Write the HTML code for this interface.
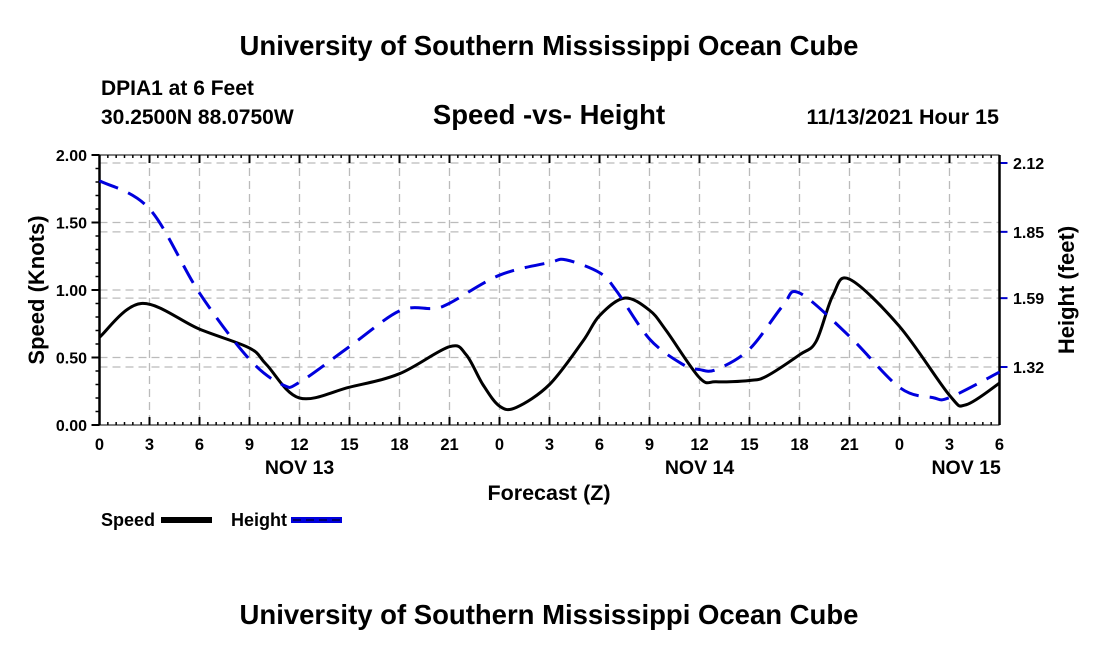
<!DOCTYPE html>
<html><head><meta charset="utf-8"><style>
body{margin:0;background:#fff;}
svg text{font-family:"Liberation Sans",Arial,sans-serif;font-weight:bold;fill:#000;}
</style></head><body>
<svg id="chart" width="1100" height="650" xmlns="http://www.w3.org/2000/svg">
<text x="549" y="55" font-size="27.5" text-anchor="middle">University of Southern Mississippi Ocean Cube</text>
<text x="101" y="95" font-size="21">DPIA1 at 6 Feet</text>
<text x="101" y="124" font-size="21">30.2500N  88.0750W</text>
<text x="549" y="124" font-size="27.5" text-anchor="middle">Speed -vs- Height</text>
<text x="999" y="124" font-size="21.5" text-anchor="end">11/13/2021 Hour 15</text>
<text x="549" y="624" font-size="27.5" text-anchor="middle">University of Southern Mississippi Ocean Cube</text>
<g id="grid"></g><g id="axes"></g><g id="series"></g>
<text x="549" y="500" font-size="21.5" text-anchor="middle">Forecast (Z)</text>
<text transform="translate(44,290) rotate(-90)" font-size="22" text-anchor="middle">Speed (Knots)</text>
<text transform="translate(1074,290) rotate(-90)" font-size="22" text-anchor="middle">Height (feet)</text>
<g>
<text x="101" y="526" font-size="18">Speed</text>
<rect x="161" y="517" width="51" height="6" fill="#000"/>
<text x="231" y="526" font-size="18">Height</text>
<rect x="291" y="517" width="51" height="6" fill="#0000dd"/>
<line x1="293" y1="520" x2="342" y2="520" stroke="#000" stroke-width="1" stroke-dasharray="8,5"/>
</g>
</svg>
<script>
const hours = [0,2.5,6,9,10,12,15,18,21,22,23,24,25,27,29,30,31.5,33,34,36,37,39,40,42,43,44,45,48,51,52,54];
const speed = [0.65,0.90,0.71,0.57,0.45,0.20,0.28,0.38,0.58,0.52,0.30,0.14,0.13,0.30,0.62,0.81,0.94,0.85,0.70,0.35,0.32,0.33,0.36,0.52,0.62,0.96,1.08,0.73,0.22,0.15,0.31];
const heightHours = [0,3,6,9,11,12,15,18,20,21,24,27,28,30,31,33,35,36,37,39,41,42,45,48,50,51,54];
const heightVals = [2.05,1.94,1.61,1.35,1.25,1.26,1.40,1.54,1.55,1.57,1.68,1.73,1.74,1.69,1.62,1.43,1.33,1.31,1.31,1.39,1.56,1.61,1.44,1.24,1.20,1.20,1.30];
const xLabels = ["0","3","6","9","12","15","18","21","0","3","6","9","12","15","18","21","0","3","6"];
const dayLabels = [[12,"NOV 13"],[36,"NOV 14"],[52,"NOV 15"]];
const leftTicks = [0,0.5,1.0,1.5,2.0];
const rightTicks = [2.12,1.85,1.59,1.32];
const X0=99.5,X1=999.5,Y0=425,Y1=155;
const xs=h=>X0+(X1-X0)*h/54;
const ysL=v=>Y0-(Y0-Y1)*v/2;
const ysR=h=>163+(2.12-h)*255;
const NS="http://www.w3.org/2000/svg";
function mk(p,t,a){const e=document.createElementNS(NS,t);for(const k in a)e.setAttribute(k,a[k]);p.appendChild(e);return e;}
const grid=document.getElementById('grid'),axes=document.getElementById('axes'),ser=document.getElementById('series');
const gs={stroke:"#bbb","stroke-width":1.3,"stroke-dasharray":"8,5",fill:"none"};
xLabels.forEach((l,i)=>{const x=xs(i*3);
 const g=mk(grid,'line',Object.assign({x1:x,y1:Y1,x2:x,y2:Y0},gs));
 
 
 mk(axes,'line',{x1:x,y1:Y0,x2:x,y2:Y0-8,stroke:"#000","stroke-width":2});
 mk(axes,'line',{x1:x,y1:Y1,x2:x,y2:Y1+8,stroke:"#000","stroke-width":2});
 const t=mk(axes,'text',{x:x,y:450,"font-size":16.5,"text-anchor":"middle"});t.textContent=l;
 
 
});
for(let h=0;h<=54;h+=0.5){const x=xs(h);mk(axes,'line',{x1:x,y1:Y0,x2:x,y2:Y0-3,stroke:"#000","stroke-width":1.5});mk(axes,'line',{x1:x,y1:Y1,x2:x,y2:Y1+3,stroke:"#000","stroke-width":1.5});}
dayLabels.forEach(d=>{const t=mk(axes,'text',{x:xs(d[0]),y:474,"font-size":19.5,"text-anchor":"middle"});t.textContent=d[1];
 
 });
leftTicks.forEach(v=>{const y=ysL(v);
 if(v>0&&v<2){const g=mk(grid,'line',Object.assign({x1:X0,y1:y,x2:X1,y2:y},gs));
 
 }
 mk(axes,'line',{x1:X0-8,y1:y,x2:X0,y2:y,stroke:"#000","stroke-width":2});
 const t=mk(axes,'text',{x:87,y:y+6,"font-size":16,"text-anchor":"end"});t.textContent=v.toFixed(2);
 
 });
for(let v=0;v<=2.001;v+=0.1){const y=ysL(v);mk(axes,'line',{x1:X0-4,y1:y,x2:X0,y2:y,stroke:"#000","stroke-width":1.5});}
rightTicks.forEach(v=>{const y=ysR(v);
 const g=mk(grid,'line',Object.assign({x1:X0,y1:y,x2:X1,y2:y},gs));
 
 
 mk(axes,'line',{x1:X1,y1:y,x2:X1+8,y2:y,stroke:"#0000cc","stroke-width":2});
 const t=mk(axes,'text',{x:1013,y:y+6,"font-size":16});t.textContent=v.toFixed(2);
 
 });
mk(axes,'line',{x1:X0,y1:Y1,x2:X0,y2:Y0,stroke:"#000","stroke-width":2.5});
mk(axes,'line',{x1:X1,y1:Y1,x2:X1,y2:Y0,stroke:"#000","stroke-width":2.5});
mk(axes,'line',{x1:X0,y1:Y1,x2:X1,y2:Y1,stroke:"#000","stroke-width":1});
mk(axes,'line',{x1:X0,y1:Y0,x2:X1,y2:Y0,stroke:"#000","stroke-width":1});
function smooth(pts){let d="M"+pts[0][0]+","+pts[0][1];
 for(let i=0;i<pts.length-1;i++){const p0=pts[Math.max(0,i-1)],p1=pts[i],p2=pts[i+1],p3=pts[Math.min(pts.length-1,i+2)];
  d+=" C"+(p1[0]+(p2[0]-p0[0])/6)+","+(p1[1]+(p2[1]-p0[1])/6)+" "+(p2[0]-(p3[0]-p1[0])/6)+","+(p2[1]-(p3[1]-p1[1])/6)+" "+p2[0]+","+p2[1];}
 return d;}
const sp=mk(ser,'path',{d:smooth(hours.map((h,i)=>[xs(h),ysL(speed[i])])),stroke:"#000","stroke-width":3,fill:"none"});


const hp=mk(ser,'path',{d:smooth(heightHours.map((h,i)=>[xs(h),ysR(heightVals[i])])),stroke:"#0000dd","stroke-width":3,fill:"none","stroke-dasharray":"20,11"});


</script>
</body></html>
